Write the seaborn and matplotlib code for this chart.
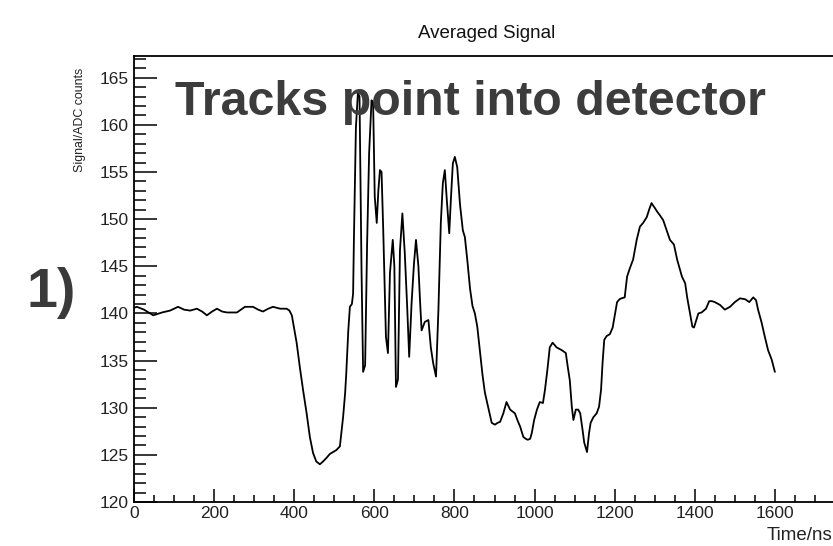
import matplotlib
matplotlib.use("Agg")
import matplotlib.pyplot as plt
import seaborn as sns
import pandas as pd
from matplotlib.ticker import MultipleLocator

# ---- data ----
time_ns = [0, 7, 25, 48, 70, 90, 110, 125, 140, 157, 170, 182, 195, 207, 220, 232, 257, 277, 297, 310,
           322, 335, 347, 365, 381, 388,
           394, 406, 414, 422, 431, 439, 447, 455, 464, 472, 481, 489, 497, 505, 514, 522, 527, 530, 535,
           539, 544, 547, 549, 554, 559, 563, 568, 572, 577, 582, 587, 593, 597, 601, 606, 610, 614, 618,
           622, 629, 634, 639, 646, 650, 654, 659, 664, 670, 676, 682, 687, 693, 699, 704, 710, 714, 718,
           726, 735, 741, 747, 754, 760, 766, 771, 776, 781, 787, 791, 796, 801, 807, 814, 821, 826, 832,
           839, 845, 851, 857, 864, 870, 876, 884, 893, 901, 908, 914, 922, 930, 939, 945, 951, 958, 964,
           972, 978, 983, 989, 993, 999, 1006, 1013, 1021, 1026, 1032, 1038, 1045, 1055, 1068, 1078, 1083,
           1088, 1093, 1097, 1103, 1109, 1114, 1120, 1124, 1131, 1136, 1140, 1147, 1155, 1161, 1166, 1170,
           1174, 1180, 1188, 1195, 1201, 1206, 1212, 1217, 1225, 1231, 1238, 1246, 1255, 1263, 1271, 1280,
           1286, 1292, 1300, 1306, 1313, 1321, 1330, 1338, 1348, 1356, 1362, 1368, 1376, 1381, 1388, 1394,
           1398, 1404, 1409, 1417, 1428, 1436, 1443, 1450, 1463, 1475, 1488, 1500, 1513, 1526, 1536, 1546,
           1553, 1558, 1567, 1575, 1583, 1592, 1600]
signal_adc = [140.6, 140.7, 140.4, 139.8, 140.1, 140.3, 140.7, 140.4, 140.3, 140.5, 140.2, 139.8, 140.2,
              140.5, 140.2, 140.1, 140.1, 140.7, 140.7, 140.4, 140.2, 140.5, 140.7, 140.5, 140.5, 140.3,
              139.8, 136.9, 134.3, 131.9, 129.4, 126.9, 125.2, 124.3, 124.0, 124.3, 124.7, 125.1, 125.3,
              125.5, 125.9, 129.0, 131.5, 133.7, 138.2, 140.7, 141.0, 142.1, 147.8, 159.7, 163.4, 163.0,
              144.6, 133.8, 134.5, 147.5, 157.0, 162.6, 162.3, 152.4, 149.6, 153.0, 155.2, 155.0, 149.2,
              137.5, 135.8, 144.3, 147.8, 145.0, 132.2, 133.0, 146.7, 150.6, 146.4, 140.7, 135.4, 141.1,
              145.3, 147.8, 145.0, 141.4, 138.2, 139.1, 139.3, 136.4, 134.7, 133.3, 140.4, 149.6, 153.8,
              155.2, 152.0, 148.5, 152.0, 155.9, 156.6, 155.5, 151.5, 148.8, 148.1, 145.7, 142.6, 140.8,
              140.0, 138.6, 135.8, 133.5, 131.6, 130.1, 128.4, 128.2, 128.4, 128.5, 129.4, 130.6, 129.8,
              129.6, 129.4, 128.6, 128.0, 126.9, 126.7, 126.6, 126.7, 127.3, 128.7, 129.8, 130.6, 130.5,
              131.9, 134.0, 136.4, 136.9, 136.4, 136.1, 135.8, 134.3, 132.9, 130.1, 128.7, 129.8, 129.8,
              129.4, 127.6, 126.3, 125.3, 127.3, 128.4, 129.0, 129.4, 130.1, 131.9, 134.9, 137.2, 137.6,
              137.8, 138.5, 140.0, 141.2, 141.5, 141.6, 141.7, 143.9, 144.8, 145.7, 147.8, 149.2, 149.6,
              150.2, 151.0, 151.7, 151.2, 150.8, 150.4, 149.9, 148.8, 147.8, 147.3, 145.7, 144.8, 143.9,
              143.2, 141.7, 140.0, 138.6, 138.5, 139.3, 140.0, 140.1, 140.5, 141.3, 141.3, 141.2, 140.9,
              140.4, 140.7, 141.2, 141.6, 141.5, 141.2, 141.7, 141.4, 140.4, 139.0, 137.5, 136.1, 135.1,
              133.8]
x_ticks = [0, 200, 400, 600, 800, 1000, 1200, 1400, 1600]
y_ticks = [120, 125, 130, 135, 140, 145, 150, 155, 160, 165]

title = "Averaged Signal"
x_label = "Time/ns"
y_label = "Signal/ADC counts"
overlay = "Tracks point into detector"
panel = "1)"

# ---- style ----
sns.set_style("ticks")
plt.rcParams["font.family"] = ["Liberation Sans", "DejaVu Sans"]

W, H = 833, 546
fig = plt.figure(figsize=(W / 100, H / 100), dpi=100)
fig.patch.set_facecolor("white")

left_px, right_px, top_px, bot_px = 134, 855, 56, 502
ax = fig.add_axes([left_px / W, 1 - bot_px / H, (right_px - left_px) / W, (bot_px - top_px) / H])

df = pd.DataFrame({"Time": time_ns, "Signal": signal_adc})
sns.lineplot(data=df, x="Time", y="Signal", color="black", linewidth=1.3, ax=ax,
             estimator=None, sort=False)

ax.set_xlim(0, 1800)
ax.set_ylim(120, 167.3)
ax.set_xticks(x_ticks)
ax.set_yticks(y_ticks)
ax.xaxis.set_minor_locator(MultipleLocator(50))
ax.yaxis.set_minor_locator(MultipleLocator(1))
ax.set_xlabel("")
ax.set_ylabel("")
ax.tick_params(axis="both", which="both", direction="in", top=False, right=False,
               labelsize=12.5, labelcolor="#222222", color="black")
ax.tick_params(axis="y", which="major", length=16.5, width=1.1, pad=4)
ax.tick_params(axis="y", which="minor", length=8.5, width=1.1)
ax.tick_params(axis="x", which="major", length=9.5, width=1.1, pad=3)
ax.tick_params(axis="x", which="minor", length=5, width=1.1)
for s in ax.spines.values():
    s.set_linewidth(1.3)
    s.set_color("black")
ax.grid(False)

fig.text(487 / W, 1 - 34 / H, title, ha="center", va="center", fontsize=13.5, color="#111111")
fig.text(80 / W, 1 - 68 / H, y_label, ha="center", va="top", rotation=90, fontsize=8.9,
         color="#222222")
fig.text(832 / W, 1 - 536 / H, x_label, ha="right", va="center", fontsize=13.5, color="#222222")
fig.text(175 / W, 1 - 115 / H, overlay, ha="left", va="baseline", fontsize=34.8,
         fontweight="bold", color="#3c3c3c")
fig.text(76 / W, 1 - 307 / H, panel, ha="right", va="baseline", fontsize=40,
         fontweight="bold", color="#3a3a3a")

fig.savefig("out.png", dpi=100, facecolor="white")
